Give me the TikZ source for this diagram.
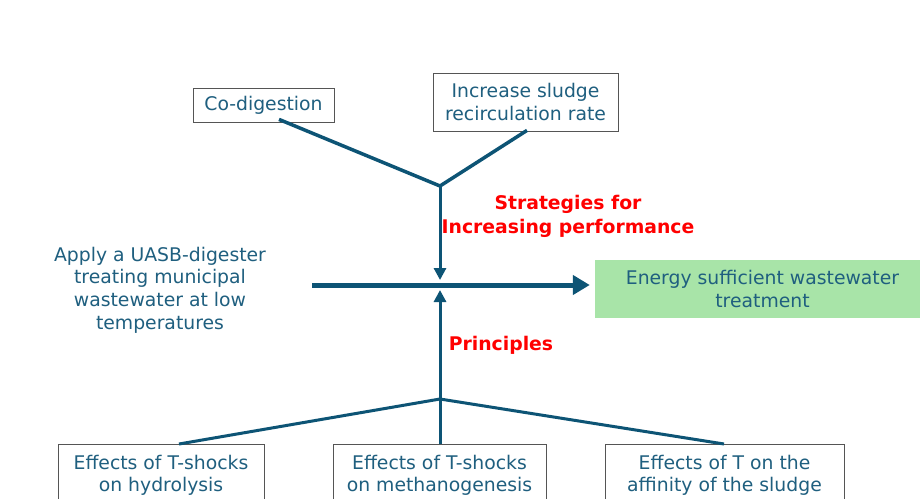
\documentclass[tikz,border=0pt]{standalone}
\usepackage{fontspec}
\setmainfont{DejaVu Sans}
\usetikzlibrary{arrows.meta,calc}
\definecolor{teal}{HTML}{1F5F7F}
\definecolor{linec}{HTML}{0D5475}
\definecolor{boxc}{HTML}{555555}
\definecolor{greenf}{HTML}{A8E4A8}
\tikzset{
  txt/.style={text=teal, font=\fontsize{18.8}{22.7}\selectfont, align=center, inner sep=0pt},
  box/.style={txt, draw=boxc, line width=0.8pt, fill=white},
  redlab/.style={text=red, font=\fontsize{18.8}{24}\selectfont\bfseries, align=center, inner sep=0pt},
  arm/.style={draw=linec, line width=3.5pt},
  thinarm/.style={draw=linec, line width=3pt},
  vline/.style={draw=linec, line width=3pt, -{Triangle[length=12pt,width=12pt]}},
  mainarrow/.style={draw=linec, line width=5pt, -{Triangle[length=17pt,width=19pt]}}
}
\begin{document}
\begin{tikzpicture}[x=1pt,y=-1pt]
\useasboundingbox (0,0) rectangle (920,498);
\clip (0,0) rectangle (920,498);
\fill[white] (0,0) rectangle (920,498);
% top boxes
\node[box, minimum width=141pt, minimum height=34pt] (codig) at (263.5,105) {Co-digestion};
\node[box, minimum width=185pt, minimum height=58pt] (incr) at (525.5,102) {Increase sludge\\recirculation rate};
\coordinate (jtop) at (440,186);
\coordinate (mid) at (440,285);
\coordinate (jbot) at (440,399);
% left text and target
\node[txt] (apply) at (160,290) {Apply a UASB-digester\\treating municipal\\wastewater at low\\temperatures};
\node[txt, fill=greenf, minimum width=335pt, minimum height=58pt] (energy) at (762.5,289) {Energy sufficient wastewater\\treatment};
% labels
\node[redlab] (strat) at (568,216) {Strategies for\\Increasing performance};
\node[redlab] (princ) at (501,345) {Principles};
% bottom boxes
\node[box, minimum width=206pt, minimum height=62pt, anchor=north] (b1) at (161,444) {Effects of T-shocks\\on hydrolysis};
\node[box, minimum width=213pt, minimum height=62pt, anchor=north] (b2) at (439.5,444) {Effects of T-shocks\\on methanogenesis};
\node[box, minimum width=239pt, minimum height=62pt, anchor=north] (b3) at (724.5,444) {Effects of T on the\\affinity of the sludge};
% connectors top
\draw[arm] ($(codig.south)+(15.5,-3)$) -- (jtop) -- ($(incr.south)+(1.5,-1)$);
\draw[vline] (jtop) -- ($(mid)+(0,-5)$);
% main arrow
\draw[mainarrow] ($(mid)+(-128,0)$) -- ($(energy.west)+(-5,-4)$);
% bottom connectors
\draw[thinarm] ($(b1.north)+(18,0)$) -- (jbot) -- ($(b3.north)+(-0.5,0)$);
\draw[thinarm] (b2.north -| jbot) -- (jbot);
\draw[vline] (jbot) -- ($(mid)+(0,5)$);
\end{tikzpicture}
\end{document}
